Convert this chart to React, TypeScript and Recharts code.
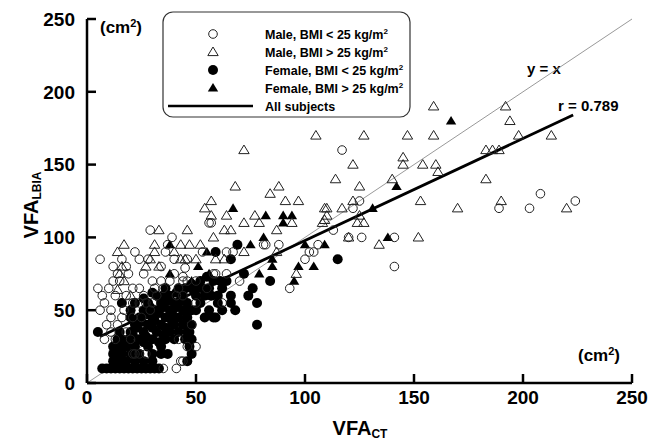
import React from "react";
import { ScatterChart, Scatter, XAxis, YAxis, ReferenceLine } from "recharts";

// VFA by CT (x) vs VFA by LBIA (y), cm²
const maleLean: [number, number][] = [
  [6, 85], [29, 105], [39, 100], [37, 95], [18, 80], [34, 80], [45, 79], [14, 75], [12, 70], [30, 70],
  [34, 70], [44, 70], [5, 65], [10, 65], [21, 65], [24, 65], [31, 65], [35, 65], [13, 60], [18, 60],
  [32, 60], [21, 55], [24, 55], [27, 55], [30, 55], [6, 50], [11, 50], [11, 45], [16, 45], [21, 45],
  [18, 35], [8, 30], [13, 30], [21, 20], [24, 20], [27, 20], [44, 15], [35, 10], [41, 10], [56, 110],
  [81, 95], [64, 90], [46, 85], [44, 73], [46, 70], [58, 75], [41, 60], [44, 60], [42, 30], [46, 25],
  [20, 30], [22, 20], [43, 15], [57, 110], [67, 90], [88, 95], [53, 90], [50, 70], [59, 75], [64, 75],
  [50, 55], [50, 25], [100, 85], [102, 90], [104, 90], [106, 95], [93, 65], [117, 160], [141, 80], [141, 100],
  [126, 100], [120, 100], [113, 105], [122, 120], [125, 125], [82, 95], [189, 120], [203, 120], [208, 130], [224, 125],
  [8, 55], [15, 70], [26, 75], [28, 85], [40, 85], [9, 40], [14, 40], [17, 50], [26, 60], [38, 70],
  [25, 45], [48, 40], [55, 65], [70, 70], [62, 55], [16, 85], [22, 90], [36, 90], [12, 80], [40, 75],
  [11, 35], [7, 60], [19, 75], [24, 85], [42, 65], [29, 50],
];

const maleObese: [number, number][] = [
  [159, 190], [192, 190], [194, 180], [105, 170], [127, 170], [147, 170], [159, 170], [198, 170], [213, 170], [145, 155],
  [145, 150], [154, 150], [160, 150], [161, 145], [122, 150], [114, 140], [140, 140], [183, 140], [183, 160], [186, 160],
  [189, 160], [88, 135], [84, 130], [125, 135], [91, 125], [97, 125], [122, 125], [153, 125], [190, 125], [110, 120],
  [117, 120], [170, 120], [110, 115], [77, 115], [79, 110], [94, 110], [108, 110], [124, 110], [127, 110], [87, 105],
  [120, 100], [152, 100], [134, 95], [96, 75], [87, 90], [72, 160], [68, 135], [57, 125], [54, 120], [64, 115],
  [72, 110], [63, 105], [66, 105], [58, 100], [52, 95], [72, 90], [63, 85], [59, 85], [109, 120], [109, 112],
  [50, 85], [33, 105], [46, 105], [17, 95], [14, 90], [31, 95], [43, 95], [47, 95], [31, 90], [40, 90],
  [43, 85], [27, 80], [33, 80], [16, 80], [45, 85], [17, 70], [15, 75], [20, 60], [14, 64], [29, 85],
  [57, 115], [220, 120], [125, 115],
];

const femaleLean: [number, number][] = [
  [7, 10], [9, 10], [11, 10], [13, 10], [15, 10], [17, 10], [19, 10], [21, 10], [23, 10], [25, 10],
  [27, 10], [29, 10], [31, 10], [33, 10], [12, 15], [14, 15], [16, 15], [18, 15], [22, 15], [26, 15],
  [30, 15], [12, 20], [14, 20], [16, 20], [12, 25], [14, 25], [16, 25], [14, 30], [16, 30], [5, 35],
  [16, 55], [20, 20], [22, 25], [24, 30], [20, 35], [22, 40], [24, 45], [20, 50], [26, 35], [28, 40],
  [30, 45], [26, 50], [22, 55], [28, 25], [30, 30], [32, 35], [34, 40], [36, 45], [32, 50], [28, 55],
  [34, 25], [36, 30], [38, 35], [40, 40], [42, 45], [38, 50], [34, 55], [40, 30], [42, 35], [44, 40],
  [46, 45], [44, 50], [40, 55], [46, 35], [48, 30], [47, 25], [48, 20], [46, 15], [48, 40], [48, 50],
  [46, 55], [50, 60], [44, 60], [38, 60], [32, 60], [26, 58], [30, 20], [34, 20], [37, 20], [24, 20],
  [26, 28], [20, 45], [36, 38], [42, 55], [30, 38], [38, 45], [36, 65], [42, 65], [48, 68], [30, 62],
  [50, 65], [52, 70], [54, 60], [56, 65], [58, 70], [60, 60], [52, 55], [56, 50], [60, 55], [62, 65],
  [64, 70], [66, 60], [58, 45], [54, 45], [50, 50], [62, 50], [66, 55], [55, 73], [48, 65], [59, 90],
  [69, 95], [66, 85], [72, 75], [84, 70], [76, 65], [74, 60], [78, 55], [68, 50], [59, 45], [78, 40],
  [115, 85], [19, 30], [21, 33], [23, 38], [25, 42], [27, 47], [29, 52], [31, 43], [33, 48], [35, 52],
  [37, 57], [39, 48], [41, 52], [43, 57], [45, 50], [35, 33], [33, 28], [39, 42], [27, 32], [45, 30],
  [47, 35], [41, 62], [35, 60], [45, 65], [53, 65], [57, 60], [61, 70], [18, 25], [20, 27], [15, 35],
];

const femaleObese: [number, number][] = [
  [38, 95], [38, 75], [48, 70], [51, 80], [55, 90], [56, 75], [67, 120], [75, 95], [79, 75], [81, 100],
  [82, 115], [85, 85], [85, 80], [90, 115], [90, 110], [94, 115], [95, 70], [97, 80], [100, 95], [104, 80],
  [109, 95], [131, 120], [138, 100], [142, 135], [167, 180],
];

const xTicks = [0, 50, 100, 150, 200, 250];
const yTicks = [0, 50, 100, 150, 200, 250];
const identityLine = [{ x: 0, y: 0 }, { x: 250, y: 250 }];
const fitLine = [{ x: 6, y: 32 }, { x: 223, y: 184 }];

const toPoints = (arr: [number, number][]) => arr.map(([x, y]) => ({ x, y }));

const font = "'Liberation Sans', Arial, sans-serif";
const ink = "#222";

const OpenCircle = (p: any) => <circle cx={p.cx} cy={p.cy} r={4.3} fill="none" stroke={ink} strokeWidth={1} />;
const FilledCircle = (p: any) => <circle cx={p.cx} cy={p.cy} r={5} fill="#000" />;
const triPath = (cx: number, cy: number) => `M${cx},${cy - 5} L${cx + 5.2},${cy + 3.6} L${cx - 5.2},${cy + 3.6} Z`;
const OpenTriangle = (p: any) => <path d={triPath(p.cx, p.cy)} fill="none" stroke={ink} strokeWidth={1} />;
const FilledTriangle = (p: any) => <path d={triPath(p.cx, p.cy)} fill="#000" />;

const legendRows = [
  { label: "Male, BMI < 25 kg/m", kind: "oc" },
  { label: "Male, BMI > 25 kg/m", kind: "ot" },
  { label: "Female, BMI < 25 kg/m", kind: "fc" },
  { label: "Female, BMI > 25 kg/m", kind: "ft" },
  { label: "All subjects", kind: "line" },
];

function LegendBox() {
  const left = 155;
  const top = 4;
  const rowY = [22, 40, 58, 76, 94];
  return (
    <g>
      <rect x={left} y={top} width={247} height={105} rx={10} fill="#fff" stroke="#333" strokeWidth={1.2} />
      {legendRows.map((r, i) => {
        const cy = top + rowY[i];
        const cx = 205;
        let sym: React.ReactNode = null;
        if (r.kind === "oc") sym = <OpenCircle cx={cx} cy={cy} />;
        if (r.kind === "ot") sym = <OpenTriangle cx={cx} cy={cy} />;
        if (r.kind === "fc") sym = <FilledCircle cx={cx} cy={cy} />;
        if (r.kind === "ft") sym = <FilledTriangle cx={cx} cy={cy} />;
        if (r.kind === "line") sym = <line x1={160} x2={245} y1={cy} y2={cy} stroke="#000" strokeWidth={2.5} />;
        return (
          <g key={i}>
            {sym}
            <text x={257} y={cy + 4.5} fontSize={12.5} fontWeight="bold" fontFamily={font} fill="#000">
              {r.label}
              {r.kind !== "line" && <tspan fontSize={8} dy={-5}>2</tspan>}
            </text>
          </g>
        );
      })}
    </g>
  );
}

function Annotations() {
  const t = { fontFamily: font, fontWeight: "bold" as const, fill: "#000" };
  return (
    <g>
      <text x={92} y={25} fontSize={17} {...t}>
        (cm<tspan fontSize={11} dy={-6}>2</tspan><tspan dy={6}>)</tspan>
      </text>
      <text x={570} y={353} fontSize={17} {...t}>
        (cm<tspan fontSize={11} dy={-6}>2</tspan><tspan dy={6}>)</tspan>
      </text>
      <text x={519} y={66} fontSize={15} {...t}>y = x</text>
      <text x={550} y={103} fontSize={15} {...t}>r = 0.789</text>
      <text x={352} y={427} fontSize={20} textAnchor="middle" {...t}>
        VFA<tspan fontSize={12} dy={3}>CT</tspan>
      </text>
      <text x={30} y={197} fontSize={20} textAnchor="middle" transform="rotate(-90 30 197)" {...t}>
        VFA<tspan fontSize={12} dy={3}>LBIA</tspan>
      </text>
    </g>
  );
}

export default function App() {
  const tickStyle = { fontSize: 19, fontWeight: "bold", fill: "#000", fontFamily: font };
  return (
    <div style={{ position: "absolute", left: 8, top: 8, width: 643, height: 433, background: "#fff" }}>
      <ScatterChart
        width={643}
        height={433}
        margin={{ top: 11, right: 19, bottom: 0, left: 0 }}
        style={{ fontFamily: font, overflow: "visible" }}
      >
        <XAxis
          type="number"
          dataKey="x"
          domain={[0, 250]}
          ticks={xTicks}
          height={58}
          tickSize={-9}
          tickMargin={17}
          tick={tickStyle}
          axisLine={{ stroke: "#000", strokeWidth: 2.5 }}
          tickLine={{ stroke: "#000", strokeWidth: 2.5 }}
          allowDataOverflow
        />
        <YAxis
          type="number"
          dataKey="y"
          domain={[0, 250]}
          ticks={yTicks}
          width={79}
          tickSize={-9}
          tickMargin={21}
          tick={tickStyle}
          axisLine={{ stroke: "#000", strokeWidth: 2.5 }}
          tickLine={{ stroke: "#000", strokeWidth: 2.5 }}
          allowDataOverflow
        />
        <ReferenceLine segment={identityLine} stroke="#999" strokeWidth={1} ifOverflow="visible" />
        <Scatter data={toPoints(femaleLean)} shape={FilledCircle} isAnimationActive={false} />
        <Scatter data={toPoints(femaleObese)} shape={FilledTriangle} isAnimationActive={false} />
        <Scatter data={toPoints(maleLean)} shape={OpenCircle} isAnimationActive={false} />
        <Scatter data={toPoints(maleObese)} shape={OpenTriangle} isAnimationActive={false} />
        <ReferenceLine segment={fitLine} stroke="#000" strokeWidth={2.8} ifOverflow="visible" />
        <LegendBox />
        <Annotations />
      </ScatterChart>
    </div>
  );
}
